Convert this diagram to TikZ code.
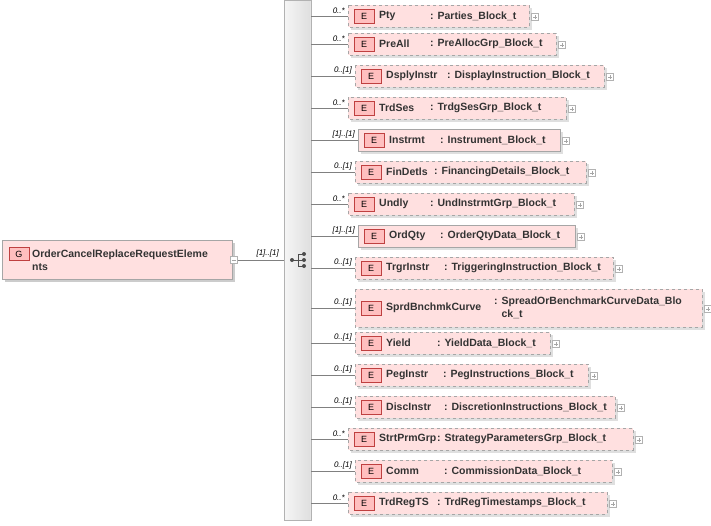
\documentclass[tikz,border=0pt]{standalone}
\usepackage{fontspec}
\setmainfont{Liberation Sans}
\begin{document}
\begin{tikzpicture}[x=1pt,y=-1pt,
  lbl/.style={font=\itshape\fontsize{8}{9}\selectfont,anchor=south east,inner sep=1pt},
  ebox/.style={fill=red!12,draw=gray!70},
  opt/.style={dashed},
  txt/.style={font=\bfseries\fontsize{10.5}{13}\selectfont,anchor=west,inner sep=0pt,text=black!80},
  plus/.style={draw=gray!60,fill=white,minimum size=7pt,inner sep=0pt}]
\useasboundingbox (0,0) rectangle (711,525);
% bar
\fill[gray!20] (284,0) rectangle (311,520);
\draw[gray!60] (284,0) rectangle (311,520);
\shade[left color=gray!8,right color=gray!25] (285,1) rectangle (310,519);
% G box
\fill[gray!40] (5,243) rectangle (235,282);
\node[draw=gray!70,fill=red!12,minimum width=230pt,minimum height=39pt,anchor=north west,inner sep=0pt] (G) at (2,240) {};
\node[draw=red!50!gray,fill=red!25,minimum width=20pt,minimum height=13pt,inner sep=0pt,font=\fontsize{9}{10}\selectfont] (Gi) at (19,254) {G};
\node[txt,align=left] (Gt) at (32,260) {OrderCancelReplaceRequestEleme\\nts};
\node[plus] (Gp) at (234,260) {};
\draw[gray!70] (Gp.west)++(1.5,0) -- ++(4,0);
\coordinate (B) at (284,260);
\draw[gray] (Gp.east) -- (B);
\node[lbl] at (280,258) {[1]..[1]};
% sequence icon
\fill[black!70] (292,260) circle (2);
\draw[black!70] (292,260) -- (298,260) (298,254) -- (298,266) (298,254)--(303,254) (298,260)--(303,260) (298,266)--(303,266);
\foreach \yy in {254,260,266} \fill[black!70] (304,\yy) circle (2);
% rows: left, top, right, bottom, colonx, card, name, type, style
\newcommand\rowbox[9]{%
  \fill[gray!25] (#1+3,#2+3) rectangle (#3+3,#4+3);
  \draw[ebox,#9] (#1,#2) rectangle (#3,#4);
  \node[draw=red!50!gray,fill=red!25,minimum width=20pt,minimum height=14pt,inner sep=0pt,font=\fontsize{9}{10}\selectfont] at (#1+16,{(#2+#4)/2}) {E};
  \node[txt] at (#1+31,{(#2+#4)/2}) {#7};
  \node[txt,align=left] at (#5,{(#2+#4)/2}) {#8};
  \node[plus] (pp) at (#3+6,{(#2+#4)/2+1}) {};
  \draw[gray!70] (pp.center)++(-2,0) -- ++(4,0) (pp.center)++(0,-2) -- ++(0,4);
  \draw[gray] (311,{(#2+#4)/2}) -- (#1,{(#2+#4)/2});
  \node[lbl] at (#1-2,{(#2+#4)/2-1}) {#6};}
\rowbox{348}{5}{529}{27}{430}{0..*}{Pty}{: Parties\_Block\_t}{opt}
\rowbox{348}{33}{556}{55}{430}{0..*}{PreAll}{: PreAllocGrp\_Block\_t}{opt}
\rowbox{355}{65}{604}{87}{447}{0..[1]}{DsplyInstr}{: DisplayInstruction\_Block\_t}{opt}
\rowbox{348}{97}{566}{119}{430}{0..*}{TrdSes}{: TrdgSesGrp\_Block\_t}{opt}
\rowbox{358}{129}{560}{151}{440}{[1]..[1]}{Instrmt}{: Instrument\_Block\_t}{solid}
\rowbox{355}{161}{586}{183}{434}{0..[1]}{FinDetls}{: FinancingDetails\_Block\_t}{opt}
\rowbox{348}{193}{574}{215}{430}{0..*}{Undly}{: UndInstrmtGrp\_Block\_t}{opt}
\rowbox{358}{225}{575}{247}{440}{[1]..[1]}{OrdQty}{: OrderQtyData\_Block\_t}{solid}
\rowbox{355}{257}{613}{279}{444}{0..[1]}{TrgrInstr}{: TriggeringInstruction\_Block\_t}{opt}
\rowbox{355}{289}{702}{327}{494}{0..[1]}{SprdBnchmkCurve}{: SpreadOrBenchmarkCurveData\_Blo\\\phantom{: }ck\_t}{opt}
\rowbox{355}{332}{550}{354}{437}{0..[1]}{Yield}{: YieldData\_Block\_t}{opt}
\rowbox{355}{364}{588}{386}{443}{0..[1]}{PegInstr}{: PegInstructions\_Block\_t}{opt}
\rowbox{355}{396}{615}{418}{444}{0..[1]}{DiscInstr}{: DiscretionInstructions\_Block\_t}{opt}
\rowbox{348}{428}{633}{450}{437}{0..*}{StrtPrmGrp}{: StrategyParametersGrp\_Block\_t}{opt}
\rowbox{355}{460}{612}{482}{444}{0..[1]}{Comm}{: CommissionData\_Block\_t}{opt}
\rowbox{348}{492}{607}{514}{437}{0..*}{TrdRegTS}{: TrdRegTimestamps\_Block\_t}{opt}
\end{tikzpicture}
\end{document}
